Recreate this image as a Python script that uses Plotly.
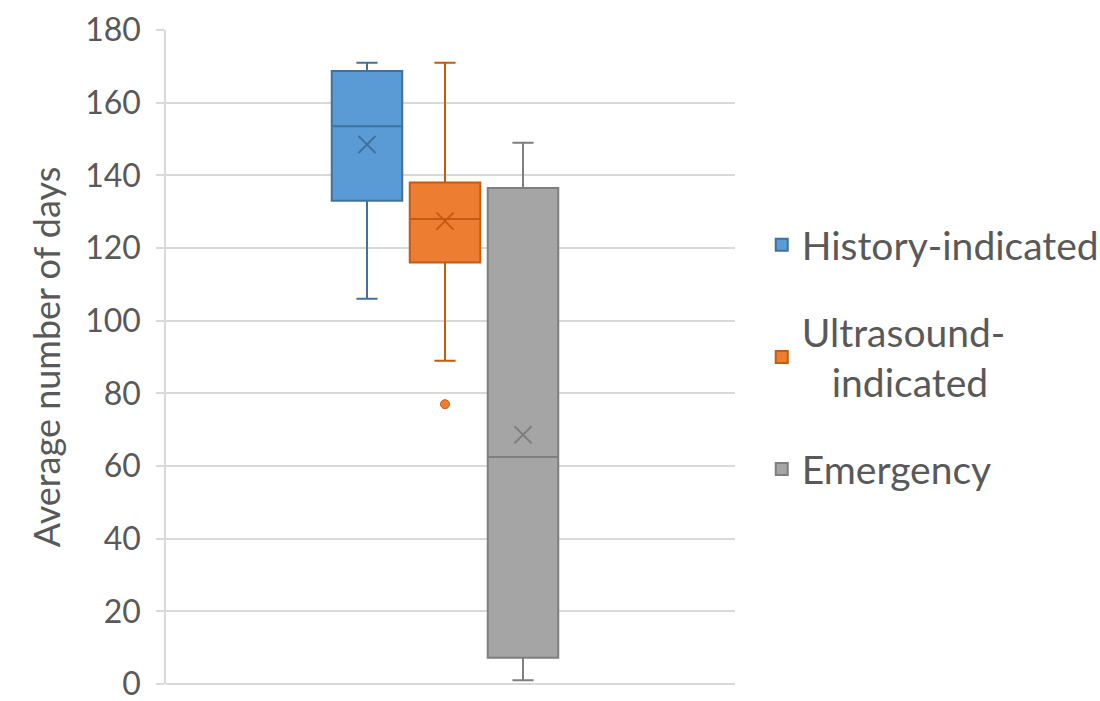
import plotly.graph_objects as go

# Box statistics (days)
groups = ["History-indicated", "Ultrasound-indicated", "Emergency"]
legend_names = ["History-indicated", "Ultrasound-<br>&nbsp;&nbsp;&nbsp;indicated", "Emergency"]
lower_fence = [106, 89, 1]
q1 = [133, 116, 7.2]
median = [153.5, 128, 62.5]
q3 = [168.7, 138, 136.5]
upper_fence = [171, 171, 149]
mean = [148.5, 127.4, 68.6]
outlier_group = ["Ultrasound-indicated"]
outlier_value = [77]

fills = ["#5B9BD5", "#ED7D31", "#A5A5A5"]
edges = ["#41719C", "#C55A11", "#7F7F7F"]

FONT = "Lato"
TEXT = "#595959"
GRID = "#D9D9D9"

fig = go.Figure()

for i, g in enumerate(groups):
    fig.add_trace(go.Box(
        x=[g],
        q1=[q1[i]], median=[median[i]], q3=[q3[i]],
        lowerfence=[lower_fence[i]], upperfence=[upper_fence[i]],
        name=legend_names[i],
        legendgroup=g,
        fillcolor=fills[i],
        line=dict(color=edges[i], width=2),
        whiskerwidth=0.3,
        boxpoints=False,
        hoverinfo="y",
    ))

# Mean markers
for i, g in enumerate(groups):
    fig.add_trace(go.Scatter(
        x=[g], y=[mean[i]], mode="markers",
        marker=dict(symbol="x-thin", size=17, line=dict(color=edges[i], width=2)),
        legendgroup=g, showlegend=False, hoverinfo="y",
    ))

# Outlier point
fig.add_trace(go.Scatter(
    x=outlier_group, y=outlier_value, mode="markers",
    marker=dict(symbol="circle", size=9, color=fills[1], line=dict(color=edges[1], width=1)),
    legendgroup=outlier_group[0], showlegend=False, hoverinfo="y",
))

fig.update_layout(
    width=1100, height=701,
    margin=dict(l=166, r=365, t=30, b=17, autoexpand=False),
    paper_bgcolor="white", plot_bgcolor="white",
    boxmode="overlay", boxgap=0.096, boxgroupgap=0,
    font=dict(family=FONT, color=TEXT, size=32),
    showlegend=True,
    legend=dict(
        x=1.047, xanchor="left", y=0.5, yanchor="middle",
        font=dict(family=FONT, color=TEXT, size=39),
        tracegroupgap=33, itemwidth=30,
        bgcolor="rgba(0,0,0,0)",
    ),
    xaxis=dict(
        type="category", categoryorder="array", categoryarray=groups,
        range=[-2.577, 4.718],
        showticklabels=False, showgrid=False, zeroline=False, showline=False,
        ticks="",
    ),
    yaxis=dict(
        range=[0, 180], dtick=20, tick0=0,
        showgrid=True, gridcolor=GRID, gridwidth=1.5,
        zeroline=True, zerolinecolor=GRID, zerolinewidth=1.5,
        showline=True, linecolor=GRID, linewidth=1.5,
        ticks="outside", ticklen=8, tickcolor=GRID, tickwidth=1.5,
        ticklabelstandoff=9, ticklabeloverflow="allow",
        tickfont=dict(family=FONT, color=TEXT, size=32),
        title=dict(text="Average number of days", font=dict(family=FONT, color=TEXT, size=36), standoff=14),
    ),
)

fig.write_html("out.html")
